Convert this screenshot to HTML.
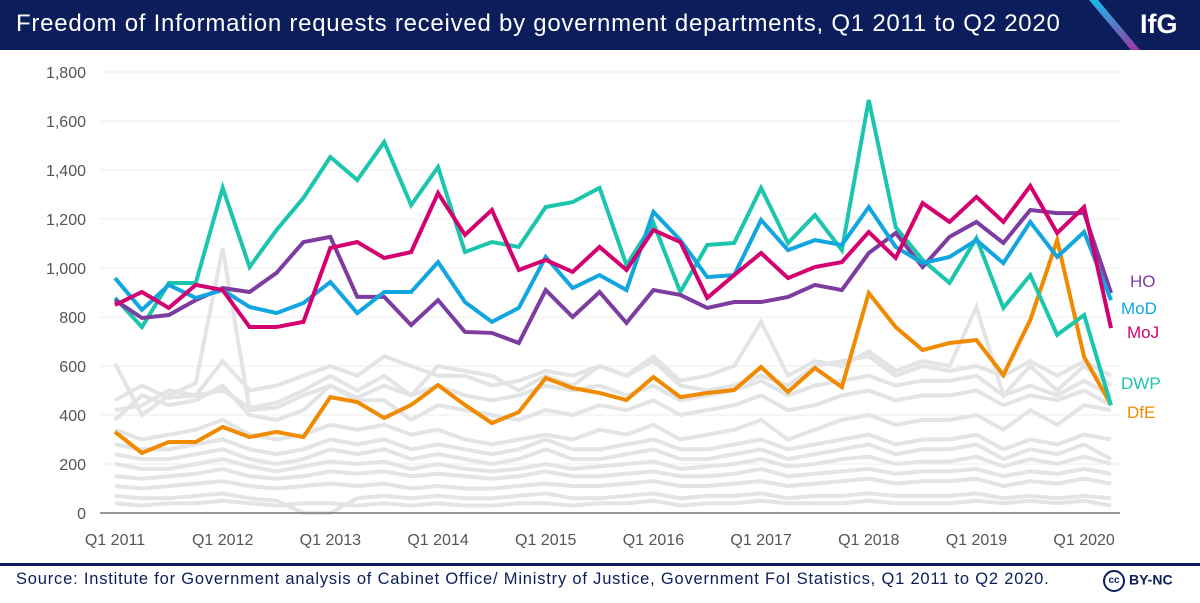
<!DOCTYPE html>
<html><head><meta charset="utf-8">
<style>
html,body{margin:0;padding:0;background:#fff;}
body{width:1200px;height:603px;overflow:hidden;position:relative;font-family:"Liberation Sans",sans-serif;}
#hdr{position:absolute;left:0;top:0;width:1200px;height:50px;background:#0b1e5b;}
#title{position:absolute;left:16px;top:10px;color:#fff;font-size:24px;letter-spacing:0.75px;white-space:nowrap;}
#logo{position:absolute;left:1140px;top:9px;color:#fff;font-size:27px;font-weight:bold;}
#src{position:absolute;left:16px;top:570px;color:#0b1e5b;font-size:16.5px;letter-spacing:0.8px;white-space:nowrap;}
#rule{position:absolute;left:0;top:563px;width:1200px;height:3px;background:#0b1e5b;}
#cc{position:absolute;left:1103px;top:570px;color:#0b1e5b;font-size:14px;font-weight:bold;}
</style></head><body>
<div id="hdr">
<div id="title">Freedom of Information requests received by government departments, Q1 2011 to Q2 2020</div>
<svg style="position:absolute;left:0;top:0" width="1200" height="50">
<defs><linearGradient id="lg" x1="0" y1="0" x2="0" y2="1"><stop offset="0" stop-color="#1ab8e8"/><stop offset="1" stop-color="#9b3aa8"/></linearGradient></defs>
<polygon points="1089,0 1098,0 1140,50 1131,50" fill="url(#lg)"/></svg>
<div id="logo">IfG</div>
</div>
<svg id="chart" style="position:absolute;left:0;top:50px" width="1200" height="512"></svg>
<div id="rule"></div>
<div id="src">Source: Institute for Government analysis of Cabinet Office/ Ministry of Justice, Government FoI Statistics, Q1 2011 to Q2 2020.</div>
<div id="cc"><span style="display:inline-block;border:2px solid #0b1e5b;border-radius:50%;width:18px;height:18px;font-size:10px;text-align:center;line-height:18px;vertical-align:middle;margin-right:4px">cc</span>BY-NC</div>
<script>
const xTicks = ["Q1 2011","Q1 2012","Q1 2013","Q1 2014","Q1 2015","Q1 2016","Q1 2017","Q1 2018","Q1 2019","Q1 2020"];
const yTicks = [0,200,400,600,800,1000,1200,1400,1600,1800];
const hoValues = [869,796,808,869,918,902,980,1106,1127,882,882,767,869,739,735,694,910,800,902,776,910,890,837,861,861,882,931,910,1061,1143,1004,1127,1188,1102,1237,1224,1224,898];
const modValues = [959,829,931,878,910,841,816,857,943,816,902,902,1024,861,780,837,1045,918,971,910,1229,1114,963,971,1196,1073,1114,1094,1249,1086,1020,1045,1114,1020,1188,1045,1147,869];
const mojValues = [849,902,837,931,910,759,759,780,1082,1106,1041,1065,1306,1135,1237,992,1033,984,1086,992,1155,1106,878,971,1061,959,1004,1024,1147,1041,1265,1188,1290,1188,1335,1143,1249,755];
const dwpValues = [878,759,939,939,1327,1004,1155,1286,1453,1359,1514,1257,1412,1065,1106,1086,1249,1269,1327,1012,1184,902,1094,1102,1327,1102,1216,1073,1686,1167,1033,939,1122,837,971,727,808,440];
const dfeValues = [331,245,290,290,351,310,331,310,473,453,388,441,522,441,367,412,551,510,490,461,555,473,490,502,596,494,592,514,898,759,665,694,706,563,788,1114,637,441];
const otherDepts = [
[610,400,480,530,1080,420,430,480,520,470,520,480,600,580,560,500,560,520,600,560,640,540,560,600,780,560,620,600,660,580,620,600,840,480,600,500,600,520],
[420,440,500,480,620,500,520,560,600,560,640,600,560,560,520,540,580,560,600,560,620,520,500,520,560,520,600,620,640,560,600,580,600,560,620,560,620,560],
[380,480,440,460,520,400,380,420,520,460,460,380,440,420,400,380,420,400,440,420,460,400,420,440,480,420,440,480,500,460,480,480,500,440,480,460,500,440],
[460,520,470,480,500,430,450,500,560,500,560,480,520,480,460,480,520,500,520,480,520,460,480,500,540,480,520,540,560,520,540,540,560,480,520,480,540,480],
[340,300,320,340,380,320,300,320,360,340,360,320,340,300,280,300,320,300,340,320,360,300,320,340,380,300,340,380,400,360,380,380,400,340,420,360,440,420],
[280,260,260,280,300,260,240,260,300,280,300,260,280,260,240,260,300,260,260,280,300,260,260,280,300,260,280,300,320,280,300,300,320,260,300,280,320,300],
[240,220,220,240,260,220,200,220,260,240,260,220,240,220,200,220,260,220,220,240,260,220,220,240,260,220,240,260,280,240,260,260,280,220,260,240,280,220],
[200,180,180,200,220,190,170,190,210,200,210,180,200,180,170,180,200,180,190,200,210,180,190,200,220,190,200,220,230,200,210,210,230,190,220,200,230,200],
[150,140,150,160,180,150,140,150,170,160,170,150,160,150,140,150,170,150,150,160,170,150,150,160,180,150,160,170,180,160,170,170,180,150,170,160,180,160],
[110,100,110,120,130,110,100,110,120,110,120,100,110,100,100,110,120,110,110,120,130,110,110,120,130,110,120,130,140,120,130,130,140,110,130,120,140,120],
[70,60,60,70,80,60,50,0,0,60,70,60,70,60,60,70,80,60,60,70,80,60,70,70,80,60,70,70,80,70,70,70,80,60,70,60,70,60],
[40,30,40,40,50,40,30,40,40,30,40,30,40,30,30,40,40,30,40,40,50,30,40,40,50,40,40,40,50,40,40,40,50,40,50,40,50,30]
];
const NS="http://www.w3.org/2000/svg";
const svg=document.getElementById('chart');
const X0=115, DX=26.92, Y0=463, YS=441/1800;
const xs=i=>X0+i*DX, ys=v=>Y0-v*YS;
function mk(t,a){const e=document.createElementNS(NS,t);for(const k in a)e.setAttribute(k,a[k]);svg.appendChild(e);return e;}
yTicks.forEach(v=>{
  if(v>0){const g=mk('line',{x1:100,x2:1120,y1:ys(v),y2:ys(v),stroke:'#eeeeee','stroke-width':1});
  
  }
  const t=mk('text',{x:86,y:ys(v)+6,'text-anchor':'end','font-size':16,fill:'#555','font-family':'Liberation Sans, sans-serif'});
  t.textContent=v.toLocaleString('en-GB');
  
  
});
xTicks.forEach((s,i)=>{
  const t=mk('text',{x:xs(i*4),y:495,'text-anchor':'middle','font-size':16,fill:'#555','font-family':'Liberation Sans, sans-serif'});
  t.textContent=s;
  
  
});
function line(vals,col,name){
  const p=mk('polyline',{points:vals.map((v,i)=>xs(i)+','+ys(v)).join(' '),fill:'none',stroke:col,'stroke-width':4,'stroke-linejoin':'miter'});
  
  
}
otherDepts.forEach(a=>line(a,'#e3e4e6','other-department-line'));
const ax=mk('line',{x1:100,x2:1120,y1:Y0,y2:Y0,stroke:'#777','stroke-width':1.5});


line(dfeValues,'#f08a00','dfe-line');
line(dwpValues,'#1cc6ad','dwp-line');
line(hoValues,'#7d3c9f','ho-line');
line(modValues,'#12a6e0','mod-line');
line(mojValues,'#d4006f','moj-line');
[["HO",1130,237,'#7d3c9f'],["MoD",1121,264,'#12a6e0'],["MoJ",1127,288,'#d4006f'],["DWP",1121,339,'#1cc6ad'],["DfE",1127,368,'#f08a00']].forEach(l=>{
  const t=mk('text',{x:l[1],y:l[2],'font-size':17,fill:l[3],'font-family':'Liberation Sans, sans-serif'});
  t.textContent=l[0];
  
  
});
</script>
</body></html>
